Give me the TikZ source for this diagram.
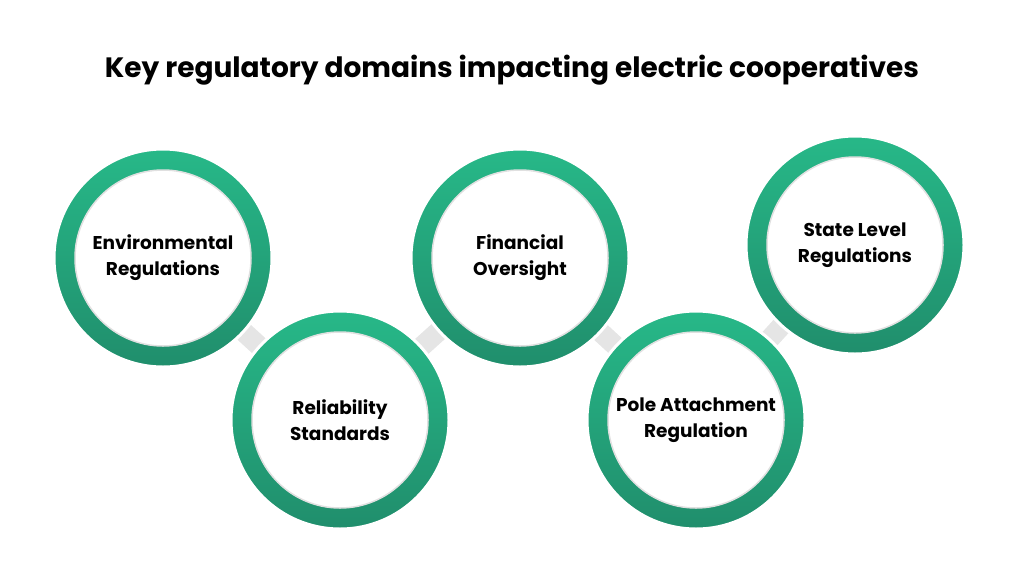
\documentclass[tikz,border=0pt]{standalone}
\usepackage{fontspec}
\setmainfont{Poppins}
\definecolor{ringtop}{HTML}{27B888}
\definecolor{ringbot}{HTML}{208E6C}
\tikzset{
  ring/.style={top color=ringtop, bottom color=ringbot, draw=white, line width=3pt},
  hole/.style={fill=white, draw=black!12, line width=1.5pt},
  link/.style={draw=black!10, line width=20pt, shorten <=80pt, shorten >=80pt},
  domainlabel/.style={font=\fontsize{18.5}{26}\selectfont\bfseries, align=center}
}
\begin{document}
\begin{tikzpicture}[x=1pt,y=-1pt]
  \useasboundingbox (0,0) rectangle (1024,576);
  \node[font=\fontsize{28}{32}\selectfont\bfseries] (title) at (512,70) {Key regulatory domains impacting electric cooperatives};
  \foreach \nm/\cx/\cy in {env/163/258, rel/340/420, fin/520/258, pole/696/420, state/855/245}
    \coordinate (c\nm) at (\cx,\cy);
  \foreach \a/\b in {env/rel, rel/fin, fin/pole, pole/state}
    \draw[link] (c\a) -- (c\b);
  \foreach \nm/\txt in {env/Environmental\\Regulations, rel/Reliability\\Standards, fin/Financial\\Oversight, pole/Pole Attachment\\Regulation, state/State Level\\Regulations}{
    \draw[ring] (c\nm) circle (109);
    \filldraw[hole] (c\nm) circle (88);
    \node[domainlabel] (\nm) at (c\nm) {\txt};
  }
\end{tikzpicture}
\end{document}
